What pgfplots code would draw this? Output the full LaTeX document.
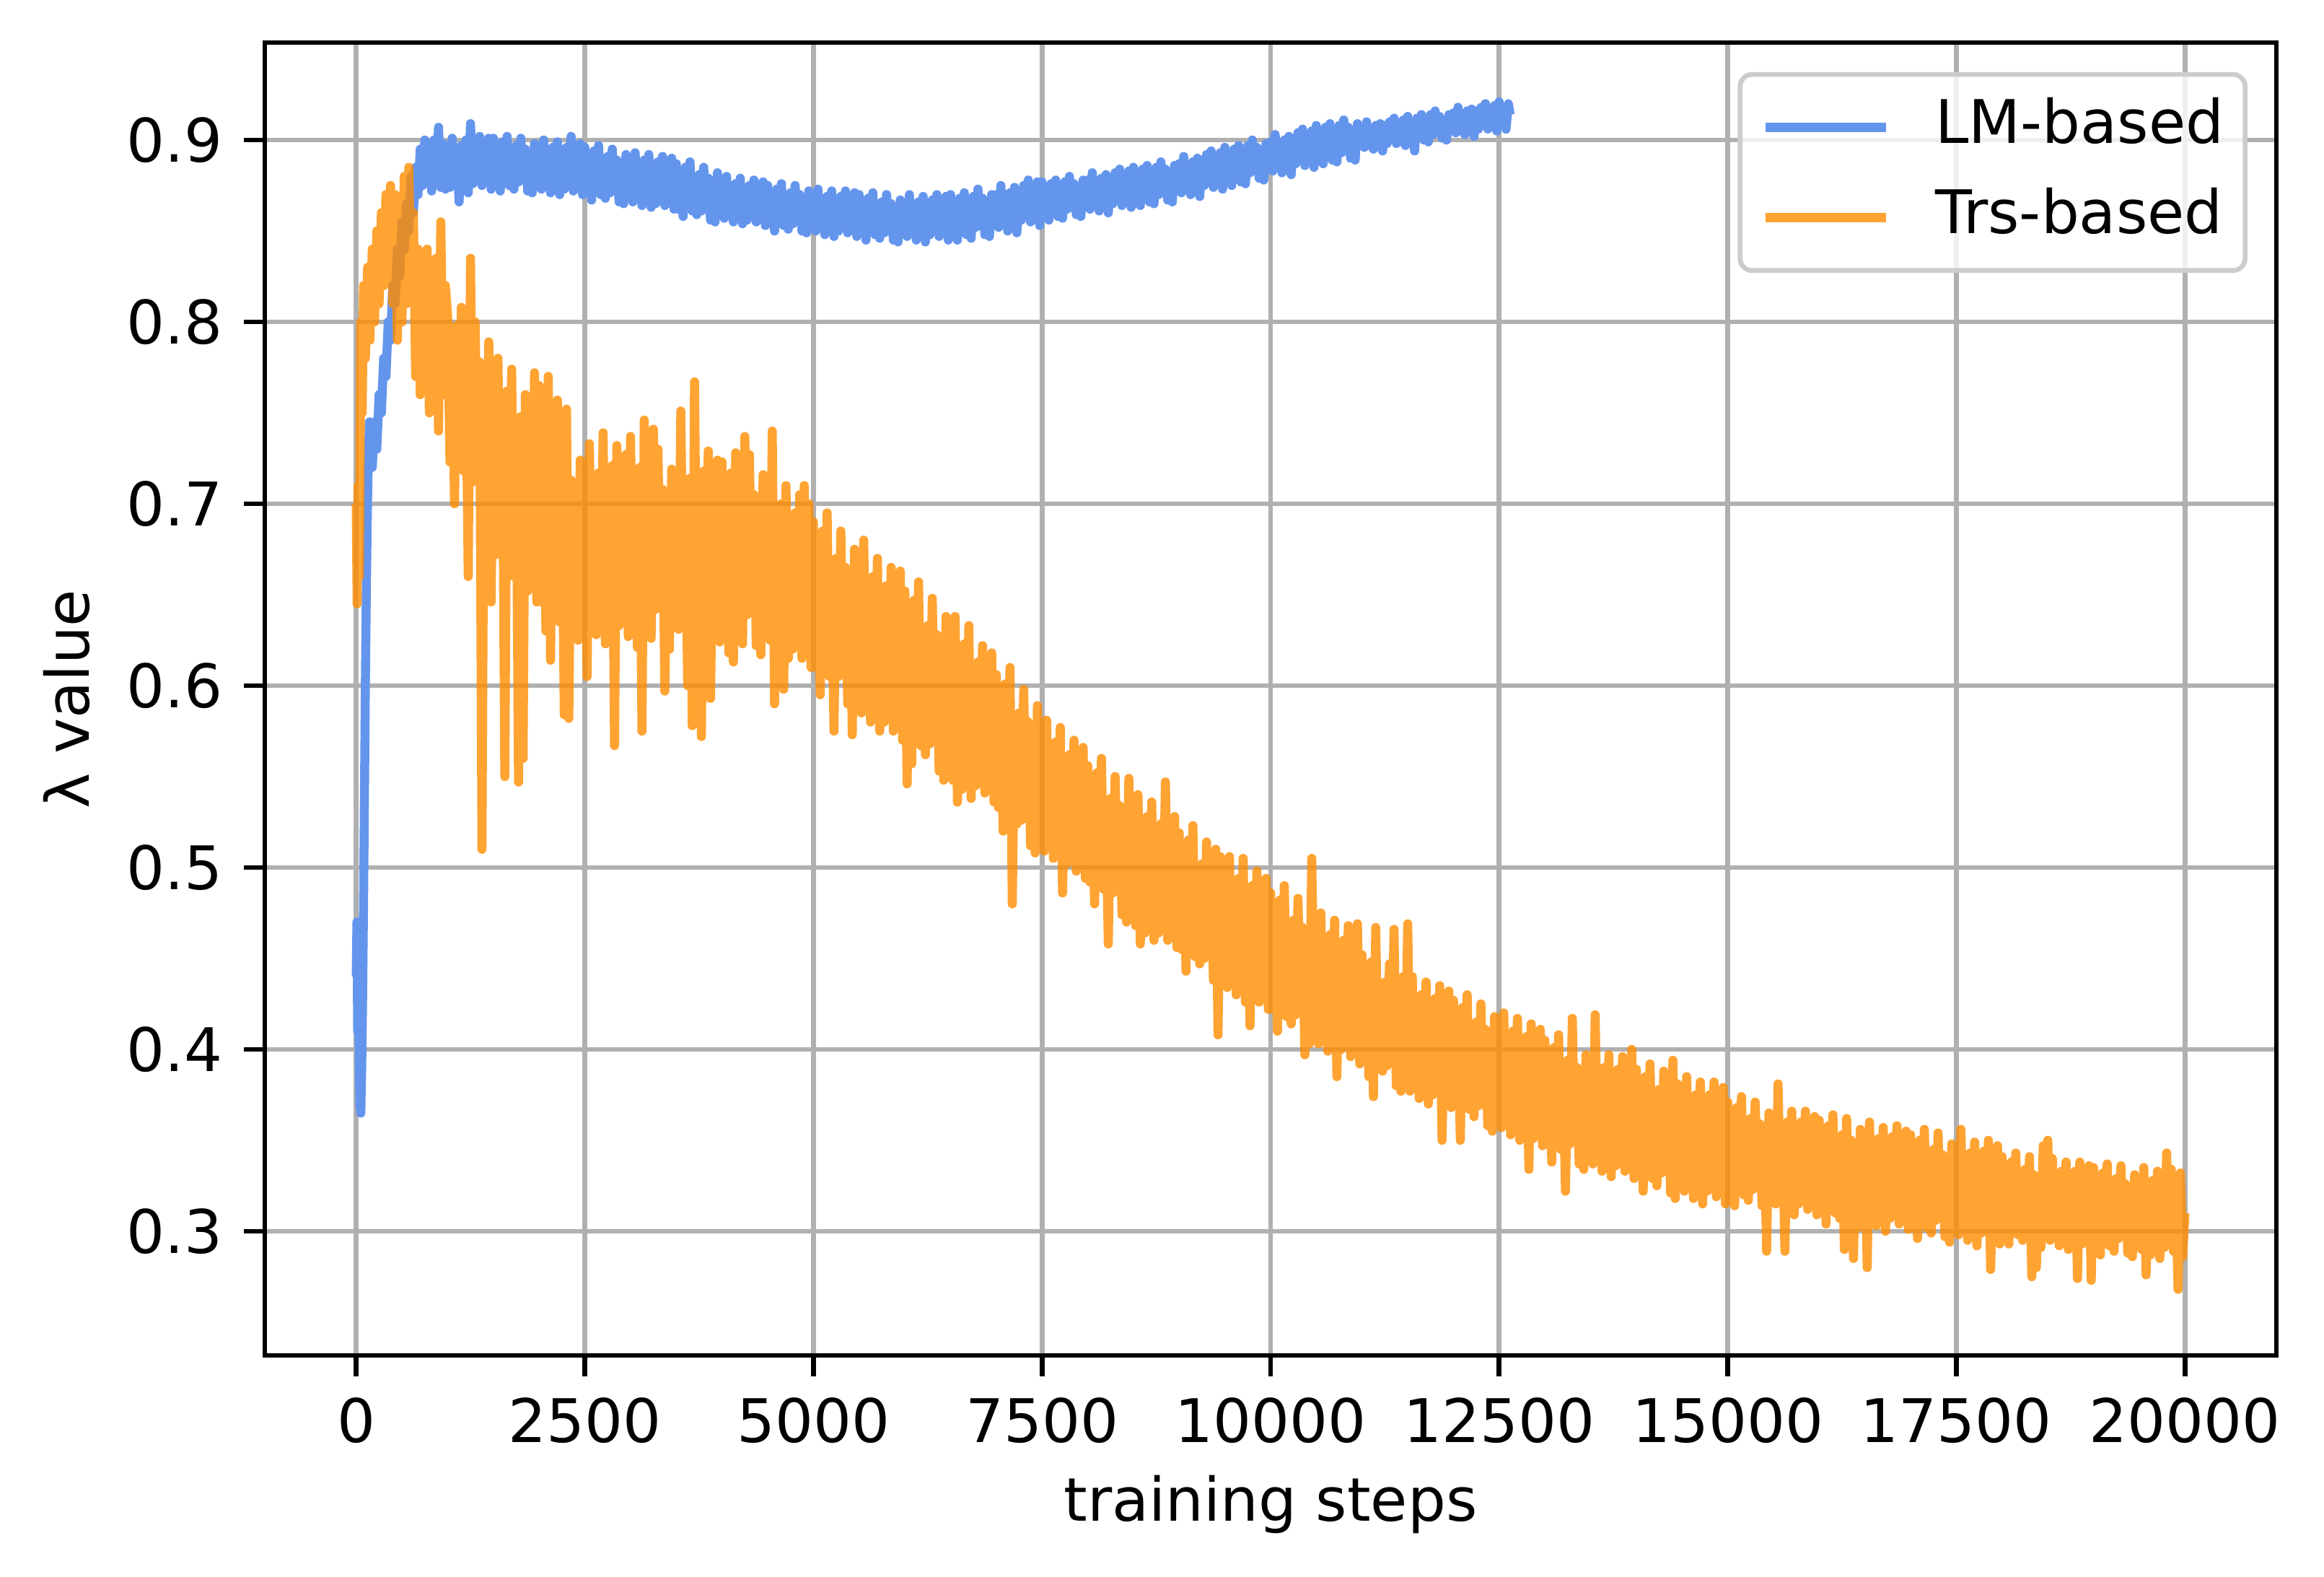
\documentclass[border=0pt]{standalone}
\usepackage{fontspec}
\setmainfont{DejaVu Sans}
\usepackage{pgfplots}
\pgfplotsset{compat=1.18}
\definecolor{lmblue}{HTML}{6495ED}
\definecolor{trsorange}{HTML}{FF8C00}
\definecolor{gridgray}{HTML}{B0B0B0}
\definecolor{legframe}{HTML}{CCCCCC}
\begin{document}
\begin{tikzpicture}
\useasboundingbox (0,0) rectangle (386.52pt,262.2pt);
\begin{axis}[
  at={(44.04pt,36.84pt)}, anchor=south west,
  scale only axis, width=334.56pt, height=218.28pt,
  xmin=-1000, xmax=21000, ymin=0.2317, ymax=0.9536,
  scaled x ticks=false, scaled y ticks=false,
  xtick={0,2500,5000,7500,10000,12500,15000,17500,20000},
  xticklabels={0,2500,5000,7500,10000,12500,15000,17500,20000},
  ytick={0.3,0.4,0.5,0.6,0.7,0.8,0.9},
  yticklabels={0.3,0.4,0.5,0.6,0.7,0.8,0.9},
  xtick pos=bottom, ytick pos=left,
  tick align=outside, major tick length=3.5pt,
  tick style={black, line width=0.8pt},
  axis line style={black, line width=0.8pt},
  grid=major, major grid style={gridgray, line width=0.8pt},
  ticklabel style={font=\fontsize{10}{12}\selectfont},
  xlabel={training steps}, ylabel={λ value},
  label style={font=\fontsize{10}{12}\selectfont},
  xlabel style={at={(axis description cs:0.5,-0.1264)}, anchor=base},
  ylabel style={at={(axis description cs:-0.0986,0.5)}, anchor=center},
  legend cell align=left,
  legend image code/.code={\draw[#1] (0pt,0pt) -- (20pt,0pt);},
  legend style={at={(axis description cs:1,1)}, anchor=north east,
    xshift=-4.8pt, yshift=-4.9pt, draw=legframe, line width=0.8pt,
    rounded corners=2pt, fill=white, fill opacity=0.8, draw opacity=1, text opacity=1,
    font=\fontsize{10}{12}\selectfont, inner xsep=3.5pt, inner ysep=4pt,
    row sep=5.4pt, column sep=7.5pt,
    nodes={inner sep=0pt, text height=7.4pt, text depth=2.2pt}},
]
\addplot[lmblue, line width=1.5pt, line join=round] coordinates {
(0,0.44) (8,0.47) (16,0.41) (24,0.46) (32,0.40) (40,0.37) (50,0.365) (60,0.39) (70,0.43) (80,0.48) (90,0.54) (100,0.60) (110,0.65) (120,0.69) (130,0.72) (145,0.745)
(175,0.72) (200,0.745) (225,0.73) (250,0.76) (275,0.75) (300,0.78) (325,0.77) (350,0.80) (375,0.79) (400,0.82) (425,0.81) (450,0.84) (475,0.825) (500,0.855)
(525,0.84) (550,0.865) (575,0.85) (600,0.88) (625,0.86) (650,0.885) (675,0.87) (700,0.895) (725,0.875) (750,0.90) (775,0.88) (800,0.895) (825,0.872) (850,0.90)
(875,0.876) (900,0.907) (925,0.874) (950,0.898) (975,0.873)
(1000,0.895) (1025,0.874) (1050,0.901) (1075,0.877) (1100,0.892) (1125,0.866) (1150,0.897) (1175,0.878) (1200,0.900) (1225,0.871)
(1250,0.909) (1275,0.876) (1300,0.899) (1325,0.881) (1350,0.902) (1375,0.875) (1400,0.892) (1425,0.878) (1450,0.901) (1475,0.873)
(1500,0.901) (1525,0.876) (1550,0.895) (1575,0.872) (1600,0.899) (1625,0.881) (1650,0.902) (1675,0.875) (1700,0.892) (1725,0.873)
(1750,0.897) (1775,0.877) (1800,0.901) (1825,0.878) (1850,0.895) (1875,0.872) (1900,0.892) (1925,0.871) (1950,0.898) (1975,0.881)
(2000,0.894) (2025,0.873) (2050,0.900) (2075,0.876) (2100,0.891) (2125,0.871) (2150,0.896) (2175,0.877) (2200,0.899) (2225,0.870)
(2250,0.892) (2275,0.873) (2300,0.896) (2325,0.878) (2350,0.902) (2375,0.872) (2400,0.889) (2425,0.875) (2450,0.898) (2475,0.870)
(2500,0.896) (2525,0.871) (2550,0.890) (2575,0.867) (2600,0.894) (2625,0.876) (2650,0.897) (2675,0.870) (2700,0.887) (2725,0.868)
(2750,0.891) (2775,0.871) (2800,0.895) (2825,0.872) (2850,0.889) (2875,0.866) (2900,0.886) (2925,0.865) (2950,0.892) (2975,0.875)
(3000,0.887) (3025,0.866) (3050,0.893) (3075,0.869) (3100,0.884) (3125,0.864) (3150,0.889) (3175,0.870) (3200,0.892) (3225,0.863)
(3250,0.884) (3275,0.865) (3300,0.888) (3325,0.870) (3350,0.891) (3375,0.864) (3400,0.881) (3425,0.867) (3450,0.890) (3475,0.862)
(3500,0.887) (3525,0.862) (3550,0.881) (3575,0.858) (3600,0.885) (3625,0.867) (3650,0.888) (3675,0.861) (3700,0.878) (3725,0.859)
(3750,0.881) (3775,0.861) (3800,0.885) (3825,0.862) (3850,0.879) (3875,0.856) (3900,0.876) (3925,0.855) (3950,0.882) (3975,0.865)
(4000,0.875) (4025,0.857) (4050,0.880) (4075,0.859) (4100,0.872) (4125,0.855) (4150,0.876) (4175,0.860) (4200,0.879) (4225,0.854)
(4250,0.872) (4275,0.856) (4300,0.875) (4325,0.860) (4350,0.878) (4375,0.855) (4400,0.869) (4425,0.857) (4450,0.877) (4475,0.853)
(4500,0.875) (4525,0.854) (4550,0.870) (4575,0.850) (4600,0.873) (4625,0.858) (4650,0.876) (4675,0.853) (4700,0.867) (4725,0.851)
(4750,0.871) (4775,0.854) (4800,0.875) (4825,0.855) (4850,0.870) (4875,0.850) (4900,0.867) (4925,0.849) (4950,0.872) (4975,0.858)
(5000,0.868) (5025,0.850) (5050,0.873) (5075,0.852) (5100,0.865) (5125,0.848) (5150,0.869) (5175,0.853) (5200,0.872) (5225,0.847)
(5250,0.866) (5275,0.850) (5300,0.869) (5325,0.854) (5350,0.872) (5375,0.849) (5400,0.863) (5425,0.851) (5450,0.871) (5475,0.847)
(5500,0.870) (5525,0.849) (5550,0.865) (5575,0.845) (5600,0.868) (5625,0.853) (5650,0.871) (5675,0.848) (5700,0.862) (5725,0.846)
(5750,0.866) (5775,0.849) (5800,0.870) (5825,0.850) (5850,0.865) (5875,0.845) (5900,0.862) (5925,0.844) (5950,0.867) (5975,0.853)
(6000,0.865) (6025,0.847) (6050,0.870) (6075,0.849) (6100,0.862) (6125,0.845) (6150,0.866) (6175,0.850) (6200,0.869) (6225,0.844)
(6250,0.864) (6275,0.848) (6300,0.867) (6325,0.852) (6350,0.870) (6375,0.847) (6400,0.861) (6425,0.849) (6450,0.869) (6475,0.845)
(6500,0.870) (6525,0.849) (6550,0.865) (6575,0.845) (6600,0.868) (6625,0.853) (6650,0.871) (6675,0.848) (6700,0.862) (6725,0.846)
(6750,0.869) (6775,0.852) (6800,0.873) (6825,0.853) (6850,0.868) (6875,0.848) (6900,0.865) (6925,0.847) (6950,0.870) (6975,0.856)
(7000,0.870) (7025,0.852) (7050,0.875) (7075,0.854) (7100,0.867) (7125,0.850) (7150,0.871) (7175,0.855) (7200,0.874) (7225,0.849)
(7250,0.872) (7275,0.856) (7300,0.875) (7325,0.860) (7350,0.878) (7375,0.855) (7400,0.869) (7425,0.857) (7450,0.877) (7475,0.853)
(7500,0.877) (7525,0.859) (7550,0.873) (7575,0.856) (7600,0.876) (7625,0.863) (7650,0.878) (7675,0.858) (7700,0.870) (7725,0.857)
(7750,0.877) (7775,0.862) (7800,0.880) (7825,0.863) (7850,0.876) (7875,0.859) (7900,0.873) (7925,0.858) (7950,0.878) (7975,0.866)
(8000,0.878) (8025,0.862) (8050,0.882) (8075,0.864) (8100,0.875) (8125,0.861) (8150,0.879) (8175,0.865) (8200,0.881) (8225,0.860)
(8250,0.879) (8275,0.865) (8300,0.882) (8325,0.869) (8350,0.884) (8375,0.864) (8400,0.876) (8425,0.866) (8450,0.883) (8475,0.863)
(8500,0.885) (8525,0.867) (8550,0.881) (8575,0.864) (8600,0.884) (8625,0.871) (8650,0.886) (8675,0.866) (8700,0.878) (8725,0.865)
(8750,0.885) (8775,0.870) (8800,0.888) (8825,0.871) (8850,0.884) (8875,0.867) (8900,0.881) (8925,0.866) (8950,0.886) (8975,0.874)
(9000,0.887) (9025,0.871) (9050,0.891) (9075,0.873) (9100,0.884) (9125,0.870) (9150,0.888) (9175,0.874) (9200,0.890) (9225,0.869)
(9250,0.889) (9275,0.875) (9300,0.892) (9325,0.879) (9350,0.894) (9375,0.874) (9400,0.886) (9425,0.876) (9450,0.893) (9475,0.873)
(9500,0.896) (9525,0.878) (9550,0.892) (9575,0.875) (9600,0.895) (9625,0.882) (9650,0.897) (9675,0.877) (9700,0.889) (9725,0.876)
(9750,0.897) (9775,0.882) (9800,0.900) (9825,0.883) (9850,0.896) (9875,0.879) (9900,0.893) (9925,0.878) (9950,0.898) (9975,0.886)
(10000,0.899) (10025,0.883) (10050,0.903) (10075,0.885) (10100,0.896) (10125,0.882) (10150,0.900) (10175,0.886) (10200,0.902) (10225,0.881)
(10250,0.901) (10275,0.887) (10300,0.904) (10325,0.891) (10350,0.906) (10375,0.886) (10400,0.898) (10425,0.888) (10450,0.905) (10475,0.885)
(10500,0.908) (10525,0.890) (10550,0.904) (10575,0.887) (10600,0.907) (10625,0.894) (10650,0.909) (10675,0.889) (10700,0.901) (10725,0.888)
(10750,0.908) (10775,0.893) (10800,0.911) (10825,0.894) (10850,0.907) (10875,0.890) (10900,0.904) (10925,0.889) (10950,0.909) (10975,0.897)
(11000,0.907) (11025,0.896) (11050,0.910) (11075,0.897) (11100,0.905) (11125,0.895) (11150,0.908) (11175,0.898) (11200,0.909) (11225,0.894)
(11250,0.908) (11275,0.898) (11300,0.910) (11325,0.901) (11350,0.912) (11375,0.898) (11400,0.906) (11425,0.899) (11450,0.911) (11475,0.897)
(11500,0.913) (11525,0.900) (11550,0.910) (11575,0.894) (11600,0.912) (11625,0.903) (11650,0.914) (11675,0.900) (11700,0.908) (11725,0.899)
(11750,0.914) (11775,0.903) (11800,0.916) (11825,0.904) (11850,0.913) (11875,0.901) (11900,0.911) (11925,0.900) (11950,0.914) (11975,0.906)
(12000,0.915) (12025,0.904) (12050,0.918) (12075,0.905) (12100,0.913) (12125,0.903) (12150,0.916) (12175,0.906) (12200,0.917) (12225,0.902)
(12250,0.916) (12275,0.906) (12300,0.918) (12325,0.909) (12350,0.920) (12375,0.906) (12400,0.914) (12425,0.907) (12450,0.919) (12475,0.905)
(12500,0.921) (12525,0.908) (12550,0.918) (12575,0.906) (12600,0.920) (12620,0.914)
};
\addlegendentry{LM-based}
\addplot[trsorange, draw opacity=0.8, line width=1.5pt, line join=round] coordinates {
(0,0.70) (10,0.645) (20,0.71) (35,0.66) (50,0.80) (65,0.75) (80,0.82) (100,0.78) (125,0.83) (150,0.79) (175,0.84) (200,0.80) (225,0.85) (250,0.81) (275,0.86)
(300,0.82) (325,0.87) (350,0.83) (375,0.875) (400,0.81) (425,0.87) (450,0.79) (475,0.86) (500,0.80) (525,0.88) (550,0.81) (575,0.885) (600,0.82) (625,0.86)
(650,0.77) (675,0.84) (700,0.76) (725,0.83) (750,0.78) (775,0.84) (800,0.75) (825,0.82) (850,0.76) (875,0.835) (900,0.74) (925,0.855) (950,0.76) (975,0.82)
(1000,0.803) (1025,0.723) (1050,0.783) (1075,0.700) (1100,0.798) (1125,0.738) (1150,0.808) (1175,0.718) (1200,0.773) (1225,0.660)
(1250,0.835) (1275,0.712) (1300,0.800) (1325,0.717) (1350,0.778) (1375,0.51) (1400,0.767) (1425,0.690) (1450,0.789) (1475,0.646)
(1500,0.756) (1525,0.672) (1550,0.780) (1575,0.684) (1600,0.744) (1625,0.55) (1650,0.762) (1675,0.690) (1700,0.774) (1725,0.660)
(1750,0.730) (1775,0.547) (1800,0.748) (1825,0.56) (1850,0.760) (1875,0.652) (1900,0.718) (1925,0.664) (1950,0.772) (1975,0.646)
(2000,0.765) (2025,0.646) (2050,0.713) (2075,0.630) (2100,0.770) (2125,0.614) (2150,0.740) (2175,0.641) (2200,0.757) (2225,0.635)
(2250,0.719) (2275,0.584) (2300,0.752) (2325,0.582) (2350,0.713) (2375,0.630) (2400,0.702) (2425,0.625) (2450,0.724) (2475,0.663)
(2500,0.711) (2525,0.605) (2550,0.733) (2575,0.645) (2600,0.700) (2625,0.628) (2650,0.717) (2675,0.650) (2700,0.739) (2725,0.623)
(2750,0.705) (2775,0.638) (2800,0.721) (2825,0.567) (2850,0.732) (2875,0.633) (2900,0.694) (2925,0.644) (2950,0.727) (2975,0.627)
(3000,0.737) (3025,0.637) (3050,0.704) (3075,0.621) (3100,0.720) (3125,0.575) (3150,0.746) (3175,0.632) (3200,0.693) (3225,0.626)
(3250,0.741) (3275,0.642) (3300,0.730) (3325,0.647) (3350,0.708) (3375,0.597) (3400,0.697) (3425,0.620) (3450,0.719) (3475,0.658)
(3500,0.708) (3525,0.631) (3550,0.751) (3575,0.642) (3600,0.697) (3625,0.600) (3650,0.714) (3675,0.578) (3700,0.767) (3725,0.620)
(3750,0.702) (3775,0.572) (3800,0.718) (3825,0.652) (3850,0.729) (3875,0.593) (3900,0.691) (3925,0.641) (3950,0.724) (3975,0.624)
(4000,0.723) (4025,0.634) (4050,0.701) (4075,0.618) (4100,0.717) (4125,0.613) (4150,0.728) (4175,0.629) (4200,0.690) (4225,0.623)
(4250,0.737) (4275,0.639) (4300,0.727) (4325,0.644) (4350,0.705) (4375,0.622) (4400,0.694) (4425,0.617) (4450,0.716) (4475,0.655)
(4500,0.695) (4525,0.625) (4550,0.740) (4575,0.590) (4600,0.685) (4625,0.620) (4650,0.700) (4675,0.598) (4700,0.710) (4725,0.615)
(4750,0.680) (4775,0.620) (4800,0.695) (4825,0.635) (4850,0.705) (4875,0.615) (4900,0.710) (4925,0.625) (4950,0.700) (4975,0.610)
(5000,0.690) (5025,0.610) (5050,0.670) (5075,0.595) (5100,0.685) (5125,0.625) (5150,0.695) (5175,0.605) (5200,0.660) (5225,0.575)
(5250,0.670) (5275,0.605) (5300,0.685) (5325,0.610) (5350,0.665) (5375,0.590) (5400,0.655) (5425,0.573) (5450,0.675) (5475,0.620)
(5500,0.655) (5525,0.585) (5550,0.680) (5575,0.595) (5600,0.645) (5625,0.580) (5650,0.660) (5675,0.600) (5700,0.670) (5725,0.575)
(5750,0.640) (5775,0.580) (5800,0.655) (5825,0.595) (5850,0.665) (5875,0.575) (5900,0.630) (5925,0.585) (5950,0.663) (5975,0.570)
(6000,0.652) (6025,0.546) (6050,0.632) (6075,0.557) (6100,0.647) (6125,0.587) (6150,0.657) (6175,0.567) (6200,0.622) (6225,0.562)
(6250,0.633) (6275,0.568) (6300,0.648) (6325,0.573) (6350,0.628) (6375,0.553) (6400,0.618) (6425,0.548) (6450,0.638) (6475,0.583)
(6500,0.618) (6525,0.548) (6550,0.638) (6575,0.536) (6600,0.608) (6625,0.543) (6650,0.623) (6675,0.563) (6700,0.633) (6725,0.538)
(6750,0.600) (6775,0.545) (6800,0.613) (6825,0.559) (6850,0.622) (6875,0.541) (6900,0.591) (6925,0.550) (6950,0.618) (6975,0.536)
(7000,0.606) (7025,0.533) (7050,0.600) (7075,0.520) (7100,0.601) (7125,0.547) (7150,0.610) (7175,0.480) (7200,0.579) (7225,0.524)
(7250,0.585) (7275,0.526) (7300,0.598) (7325,0.530) (7350,0.580) (7375,0.512) (7400,0.571) (7425,0.508) (7450,0.589) (7475,0.539)
(7500,0.565) (7525,0.509) (7550,0.581) (7575,0.517) (7600,0.557) (7625,0.505) (7650,0.569) (7675,0.521) (7700,0.577) (7725,0.486)
(7750,0.550) (7775,0.502) (7800,0.562) (7825,0.514) (7850,0.570) (7875,0.498) (7900,0.542) (7925,0.506) (7950,0.566) (7975,0.494)
(8000,0.556) (8025,0.492) (8050,0.540) (8075,0.480) (8100,0.552) (8125,0.504) (8150,0.560) (8175,0.488) (8200,0.532) (8225,0.458)
(8250,0.538) (8275,0.486) (8300,0.550) (8325,0.490) (8350,0.534) (8375,0.474) (8400,0.526) (8425,0.470) (8450,0.549) (8475,0.498)
(8500,0.524) (8525,0.468) (8550,0.540) (8575,0.458) (8600,0.516) (8625,0.464) (8650,0.528) (8675,0.480) (8700,0.536) (8725,0.460)
(8750,0.512) (8775,0.464) (8800,0.524) (8825,0.476) (8850,0.547) (8875,0.460) (8900,0.504) (8925,0.468) (8950,0.528) (8975,0.456)
(9000,0.519) (9025,0.455) (9050,0.503) (9075,0.443) (9100,0.515) (9125,0.467) (9150,0.523) (9175,0.451) (9200,0.495) (9225,0.447)
(9250,0.502) (9275,0.450) (9300,0.514) (9325,0.454) (9350,0.498) (9375,0.438) (9400,0.510) (9425,0.408) (9450,0.506) (9475,0.462)
(9500,0.490) (9525,0.434) (9550,0.506) (9575,0.442) (9600,0.482) (9625,0.430) (9650,0.494) (9675,0.446) (9700,0.505) (9725,0.426)
(9750,0.478) (9775,0.413) (9800,0.490) (9825,0.442) (9850,0.498) (9875,0.426) (9900,0.470) (9925,0.434) (9950,0.494) (9975,0.422)
(10000,0.486) (10025,0.422) (10050,0.470) (10075,0.410) (10100,0.482) (10125,0.434) (10150,0.490) (10175,0.418) (10200,0.462) (10225,0.414)
(10250,0.471) (10275,0.419) (10300,0.483) (10325,0.423) (10350,0.467) (10375,0.397) (10400,0.459) (10425,0.403) (10450,0.505) (10475,0.431)
(10500,0.459) (10525,0.403) (10550,0.475) (10575,0.411) (10600,0.451) (10625,0.399) (10650,0.463) (10675,0.415) (10700,0.471) (10725,0.385)
(10750,0.448) (10775,0.400) (10800,0.460) (10825,0.412) (10850,0.468) (10875,0.396) (10900,0.440) (10925,0.404) (10950,0.469) (10975,0.392)
(11000,0.452) (11025,0.395) (11050,0.438) (11075,0.385) (11100,0.448) (11125,0.374) (11150,0.467) (11175,0.392) (11200,0.431) (11225,0.388)
(11250,0.437) (11275,0.391) (11300,0.447) (11325,0.394) (11350,0.466) (11375,0.380) (11400,0.426) (11425,0.377) (11450,0.440) (11475,0.401)
(11500,0.469) (11525,0.377) (11550,0.440) (11575,0.384) (11600,0.419) (11625,0.373) (11650,0.430) (11675,0.387) (11700,0.437) (11725,0.370)
(11750,0.418) (11775,0.375) (11800,0.428) (11825,0.386) (11850,0.435) (11875,0.350) (11900,0.411) (11925,0.379) (11950,0.432) (11975,0.368)
(12000,0.427) (12025,0.370) (12050,0.413) (12075,0.350) (12100,0.423) (12125,0.381) (12150,0.430) (12175,0.367) (12200,0.406) (12225,0.363)
(12250,0.415) (12275,0.369) (12300,0.425) (12325,0.372) (12350,0.411) (12375,0.358) (12400,0.404) (12425,0.355) (12450,0.418) (12475,0.379)
(12500,0.406) (12525,0.357) (12550,0.420) (12575,0.364) (12600,0.399) (12625,0.353) (12650,0.410) (12675,0.367) (12700,0.417) (12725,0.350)
(12750,0.397) (12775,0.354) (12800,0.407) (12825,0.334) (12850,0.414) (12875,0.351) (12900,0.390) (12925,0.358) (12950,0.411) (12975,0.347)
(13000,0.405) (13025,0.348) (13050,0.391) (13075,0.338) (13100,0.401) (13125,0.359) (13150,0.408) (13175,0.345) (13200,0.384) (13225,0.322)
(13250,0.394) (13275,0.348) (13300,0.417) (13325,0.351) (13350,0.390) (13375,0.337) (13400,0.383) (13425,0.334) (13450,0.397) (13475,0.358)
(13500,0.386) (13525,0.337) (13550,0.419) (13575,0.344) (13600,0.379) (13625,0.333) (13650,0.390) (13675,0.347) (13700,0.397) (13725,0.330)
(13750,0.379) (13775,0.336) (13800,0.389) (13825,0.347) (13850,0.396) (13875,0.333) (13900,0.372) (13925,0.340) (13950,0.400) (13975,0.329)
(14000,0.389) (14025,0.332) (14050,0.375) (14075,0.322) (14100,0.385) (14125,0.343) (14150,0.392) (14175,0.329) (14200,0.368) (14225,0.325)
(14250,0.378) (14275,0.332) (14300,0.388) (14325,0.335) (14350,0.374) (14375,0.321) (14400,0.394) (14425,0.318) (14450,0.381) (14475,0.342)
(14500,0.371) (14525,0.322) (14550,0.385) (14575,0.329) (14600,0.364) (14625,0.318) (14650,0.375) (14675,0.332) (14700,0.382) (14725,0.315)
(14750,0.365) (14775,0.322) (14800,0.375) (14825,0.333) (14850,0.382) (14875,0.319) (14900,0.358) (14925,0.326) (14950,0.379) (14975,0.315)
(15000,0.371) (15025,0.323) (15050,0.359) (15075,0.314) (15100,0.368) (15125,0.332) (15150,0.374) (15175,0.320) (15200,0.353) (15225,0.317)
(15250,0.362) (15275,0.323) (15300,0.371) (15325,0.326) (15350,0.359) (15375,0.314) (15400,0.353) (15425,0.289) (15450,0.365) (15475,0.332)
(15500,0.357) (15525,0.315) (15550,0.381) (15575,0.321) (15600,0.351) (15625,0.289) (15650,0.360) (15675,0.324) (15700,0.366) (15725,0.309)
(15750,0.351) (15775,0.315) (15800,0.360) (15825,0.324) (15850,0.366) (15875,0.312) (15900,0.345) (15925,0.318) (15950,0.363) (15975,0.309)
(16000,0.361) (16025,0.313) (16050,0.349) (16075,0.304) (16100,0.358) (16125,0.322) (16150,0.364) (16175,0.310) (16200,0.343) (16225,0.307)
(16250,0.353) (16275,0.290) (16300,0.362) (16325,0.317) (16350,0.350) (16375,0.285) (16400,0.344) (16425,0.302) (16450,0.356) (16475,0.323)
(16500,0.348) (16525,0.280) (16550,0.360) (16575,0.312) (16600,0.342) (16625,0.303) (16650,0.351) (16675,0.315) (16700,0.357) (16725,0.300)
(16750,0.343) (16775,0.307) (16800,0.352) (16825,0.316) (16850,0.358) (16875,0.304) (16900,0.337) (16925,0.310) (16950,0.355) (16975,0.301)
(17000,0.353) (17025,0.305) (17050,0.341) (17075,0.296) (17100,0.350) (17125,0.314) (17150,0.356) (17175,0.302) (17200,0.335) (17225,0.299)
(17250,0.345) (17275,0.306) (17300,0.354) (17325,0.309) (17350,0.342) (17375,0.297) (17400,0.336) (17425,0.294) (17450,0.348) (17475,0.315)
(17500,0.340) (17525,0.298) (17550,0.356) (17575,0.304) (17600,0.334) (17625,0.295) (17650,0.343) (17675,0.307) (17700,0.349) (17725,0.292)
(17750,0.335) (17775,0.299) (17800,0.344) (17825,0.308) (17850,0.350) (17875,0.279) (17900,0.329) (17925,0.302) (17950,0.347) (17975,0.293)
(18000,0.341) (18025,0.300) (18050,0.331) (18075,0.293) (18100,0.338) (18125,0.308) (18150,0.343) (18175,0.298) (18200,0.326) (18225,0.295)
(18250,0.334) (18275,0.301) (18300,0.341) (18325,0.275) (18350,0.331) (18375,0.280) (18400,0.326) (18425,0.291) (18450,0.347) (18475,0.308)
(18500,0.350) (18525,0.295) (18550,0.340) (18575,0.300) (18600,0.325) (18625,0.292) (18650,0.333) (18675,0.302) (18700,0.338) (18725,0.290)
(18750,0.326) (18775,0.295) (18800,0.333) (18825,0.274) (18850,0.338) (18875,0.293) (18900,0.321) (18925,0.298) (18950,0.336) (18975,0.273)
(19000,0.335) (19025,0.294) (19050,0.325) (19075,0.287) (19100,0.332) (19125,0.302) (19150,0.337) (19175,0.292) (19200,0.320) (19225,0.289)
(19250,0.329) (19275,0.296) (19300,0.336) (19325,0.298) (19350,0.326) (19375,0.288) (19400,0.321) (19425,0.286) (19450,0.331) (19475,0.303)
(19500,0.325) (19525,0.290) (19550,0.335) (19575,0.276) (19600,0.320) (19625,0.287) (19650,0.328) (19675,0.297) (19700,0.333) (19725,0.285)
(19750,0.322) (19775,0.291) (19800,0.343) (19825,0.299) (19850,0.334) (19875,0.289) (19900,0.317) (19925,0.268) (19950,0.332) (19975,0.286)
(20000,0.310)
};
\addlegendentry{Trs-based}
\end{axis}
\end{tikzpicture}
\end{document}
